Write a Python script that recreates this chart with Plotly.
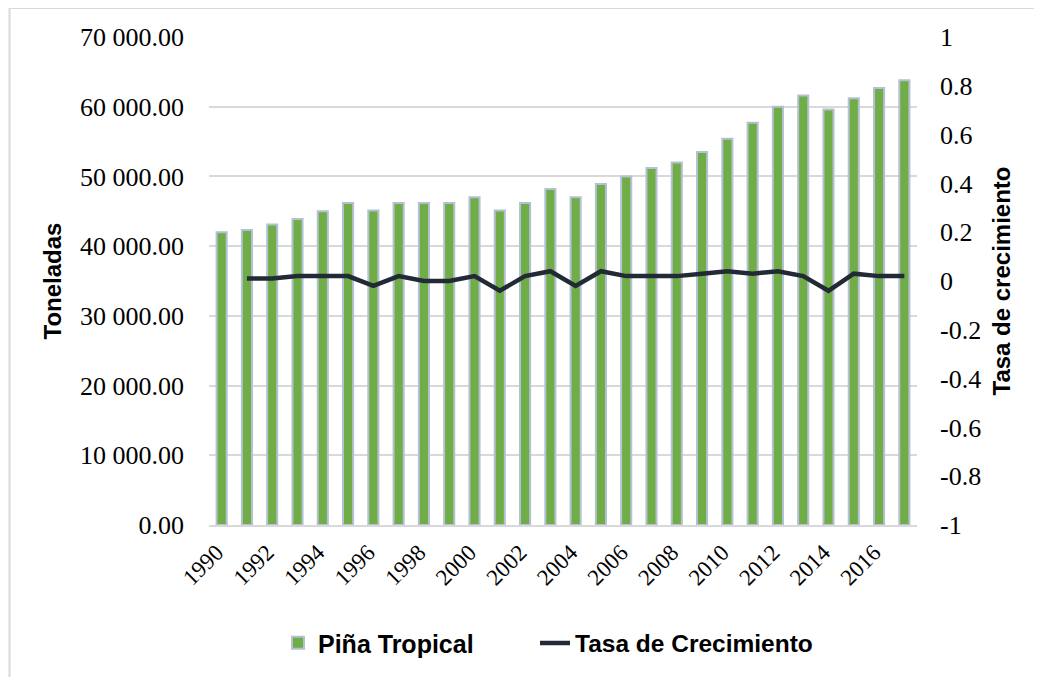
import plotly.graph_objects as go

years = list(range(1990, 2018))
toneladas = [42000, 42300, 43100, 43900, 45000, 46200, 45100, 46200, 46200, 46200,
             47000, 45100, 46200, 48200, 47000, 48900, 50000, 51200, 52000, 53500,
             55400, 57700, 60000, 61600, 59600, 61200, 62700, 63800]
tasa_years = list(range(1991, 2018))
tasa = [0.01, 0.01, 0.02, 0.02, 0.02, -0.02, 0.02, 0.0, 0.0, 0.02,
        -0.04, 0.02, 0.04, -0.02, 0.04, 0.02, 0.02, 0.02, 0.03, 0.04,
        0.03, 0.04, 0.02, -0.04, 0.03, 0.02, 0.02]
left_ticks = [0, 10000, 20000, 30000, 40000, 50000, 60000, 70000]
left_ticktext = [f"{v:,.2f}".replace(",", " ") for v in left_ticks]
right_ticks = [-1, -0.8, -0.6, -0.4, -0.2, 0, 0.2, 0.4, 0.6, 0.8, 1]
right_ticktext = ["-1", "-0.8", "-0.6", "-0.4", "-0.2", "0", "0.2", "0.4", "0.6", "0.8", "1"]
x_ticks = list(range(1990, 2018, 2))

serif = "Liberation Serif"
sans = "Liberation Sans"

fig = go.Figure()
fig.add_trace(go.Bar(
    x=years, y=toneladas, name="<b>Piña Tropical</b>",
    marker=dict(color="#70ad47", line=dict(color="#b4c0d4", width=2)),
    yaxis="y", legend="legend",
))
fig.add_trace(go.Scatter(
    x=tasa_years, y=tasa, name="<b>Tasa de Crecimiento</b>", mode="lines",
    line=dict(color="#222a35", width=4.5), yaxis="y2", legend="legend2",
))

# page body adds an 8px offset; the figure fills the rest of the window
W, H = 1034, 669
L, R, T, B = 201, 125, 29, 152
pw, ph = W - L - R, H - T - B

def px(xf):
    return (xf - L) / pw

def py(yf):
    return (T + ph - yf) / ph

fig.update_layout(
    width=W, height=H,
    margin=dict(l=L, r=R, t=T, b=B, autoexpand=False),
    paper_bgcolor="white", plot_bgcolor="white",
    bargap=0.6,
    showlegend=True,
    legend=dict(orientation="h", x=px(270), xanchor="left",
                y=py(635), yanchor="middle",
                font=dict(family=sans, size=25, color="#000000"),
                itemwidth=30),
    legend2=dict(orientation="h", x=px(527), xanchor="left",
                 y=py(635), yanchor="middle",
                 font=dict(family=sans, size=24.5, color="#000000"),
                 itemwidth=30),
    xaxis=dict(range=[1989.5, 2017.5], tickvals=x_ticks,
               ticktext=[str(v) for v in x_ticks], tickangle=-45,
               tickfont=dict(family=serif, size=23, color="#000000"),
               showgrid=False, showline=True, linecolor="#d9d9d9", linewidth=2,
               ticks="", zeroline=False, automargin=False,
               ticklabelstandoff=3, ticklabelshift=-5),
    yaxis=dict(range=[0, 70000], tickvals=left_ticks, ticktext=left_ticktext,
               tickfont=dict(family=serif, size=26, color="#000000"),
               showgrid=True, gridcolor="#d9d9d9", gridwidth=2,
               zeroline=False, showline=False, ticks="", ticklabelstandoff=24,
               automargin=False,
               title=dict(text="<b>Toneladas</b>",
                          font=dict(family=sans, size=24, color="#000000"),
                          standoff=11)),
    yaxis2=dict(range=[-1, 1], tickvals=right_ticks, ticktext=right_ticktext,
                overlaying="y", side="right", showgrid=False, zeroline=False,
                tickfont=dict(family=serif, size=26, color="#000000"),
                ticks="", ticklabelstandoff=22, automargin=False,
                title=dict(text="<b>Tasa de crecimiento</b>",
                           font=dict(family=sans, size=24, color="#000000"),
                           standoff=13)),
    shapes=[
        dict(type="line", xref="paper", yref="paper",
             x0=px(1.5), x1=px(W + 20),
             y0=py(0), y1=py(0),
             line=dict(color="#d9d9d9", width=2)),
        dict(type="line", xref="paper", yref="paper",
             x0=px(1.5), x1=px(1.5),
             y0=py(0), y1=py(H + 20),
             line=dict(color="#d9d9d9", width=2)),
    ],
)

fig.write_html("out.html")
